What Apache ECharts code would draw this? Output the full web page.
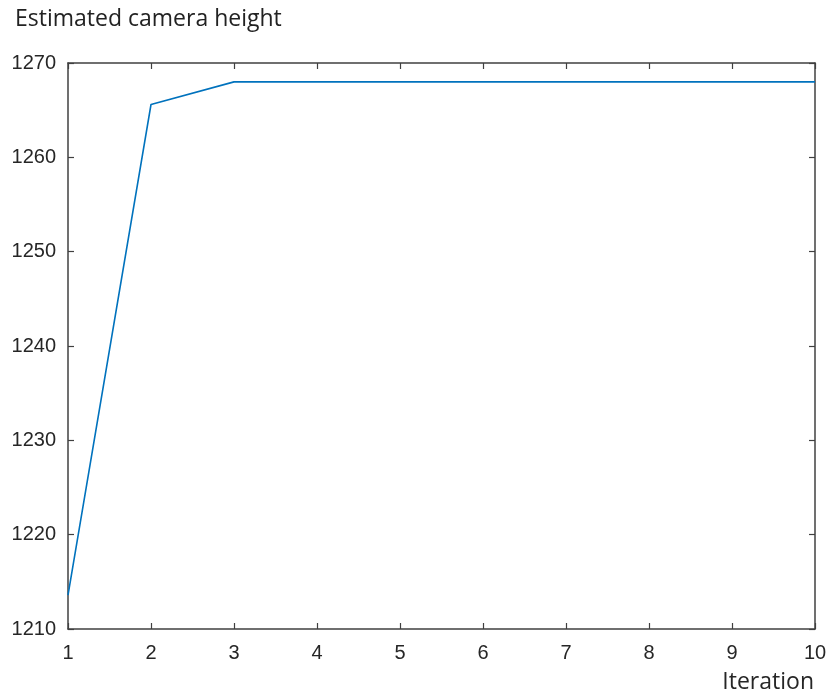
<!DOCTYPE html>
<html><head><meta charset="utf-8">
<script src="https://cdn.jsdelivr.net/npm/echarts@6/dist/echarts.min.js"></script>
<style>html,body{margin:0;padding:0;background:#fff}#c{width:830px;height:695px}</style>
</head><body><div id="c"></div>
<script>
const iterations = [1, 2, 3, 4, 5, 6, 7, 8, 9, 10];
const heights = [1213.6, 1265.6, 1268.0, 1268.0, 1268.0, 1268.0, 1268.0, 1268.0, 1268.0, 1268.0];
const titleText = 'Estimated camera height';
const xName = 'Iteration';

const chart = echarts.init(document.getElementById('c'));
const axisCommon = {
  axisLine: {show: true, lineStyle: {color: '#404040', width: 1.5}},
  axisTick: {show: true, inside: true, length: 6, lineStyle: {color: '#404040', width: 1.2}},
  splitLine: {show: false}
};
chart.setOption({
  animation: false,
  title: {text: titleText, left: 10, top: 3, textStyle: {fontFamily: 'Open Sans', fontWeight: 'normal', fontSize: 23, color: '#222'}},
  grid: {left: 68, right: 15, top: 63, bottom: 66},
  xAxis: [
    Object.assign({type: 'value', min: 1, max: 10, interval: 1, position: 'bottom',
      axisLabel: {color: '#262626', fontFamily: 'Liberation Sans', fontSize: 20, margin: 14, formatter: v => String(v)}}, axisCommon),
    Object.assign({type: 'value', min: 1, max: 10, interval: 1, position: 'top', axisLabel: {show: false}}, axisCommon)
  ],
  yAxis: [
    Object.assign({type: 'value', min: 1210, max: 1270, interval: 10, position: 'left',
      axisLabel: {color: '#262626', fontFamily: 'Liberation Sans', fontSize: 20, margin: 12, formatter: v => String(v)}}, axisCommon),
    Object.assign({type: 'value', min: 1210, max: 1270, interval: 10, position: 'right', axisLabel: {show: false}}, axisCommon)
  ],
  graphic: [{type: 'text', right: 16, top: 671, style: {text: xName, fontFamily: 'Open Sans', fontSize: 23, fill: '#262626'}}],
  series: [{type: 'line', data: iterations.map((x, i) => [x, heights[i]]), showSymbol: false,
    lineStyle: {color: '#0072BD', width: 1.6}, itemStyle: {color: '#0072BD'}}]
});
</script></body></html>
